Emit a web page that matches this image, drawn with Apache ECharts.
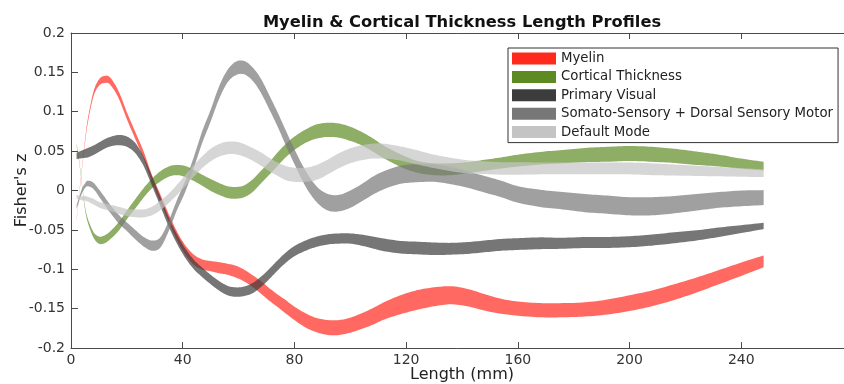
<!DOCTYPE html>
<html>
<head>
<meta charset="utf-8">
<script src="https://cdn.jsdelivr.net/npm/echarts@6/dist/echarts.min.js"></script>
<style>
    html, body { margin: 0; padding: 0; background: #fff; }
    #chart { width: 844px; height: 384px; }
</style>
</head>
<body>
<div id="chart"></div>
<script>
// fibre length (mm) sample points, shared by every profile
const lengthMm = [2, 3, 4, 5, 6, 8, 10, 12, 14, 17,
    20, 23, 26, 29, 32, 35, 38, 41, 44, 47,
    50, 53, 56, 59, 62, 65, 68, 71, 74, 77,
    80, 84, 88, 92, 96, 100, 104, 108, 112, 118,
    124, 130, 136, 142, 148, 154, 160, 168, 176, 184,
    192, 200, 208, 216, 224, 232, 240, 248];

// band centre and thickness (Fisher's z)
const myelinMid = [-0.037, -0.002, 0.030, 0.062, 0.088, 0.122, 0.137, 0.141, 0.139, 0.122,
    0.095, 0.070, 0.045, 0.015, -0.010, -0.035, -0.058, -0.076, -0.088, -0.094,
    -0.096, -0.098, -0.100, -0.103, -0.108, -0.115, -0.123, -0.132, -0.140, -0.148,
    -0.156, -0.165, -0.171, -0.174, -0.174, -0.171, -0.166, -0.160, -0.153, -0.145,
    -0.139, -0.135, -0.133, -0.136, -0.142, -0.147, -0.150, -0.152, -0.152, -0.151,
    -0.148, -0.143, -0.137, -0.129, -0.120, -0.110, -0.100, -0.090];
const myelinWidth = [0.002, 0.002, 0.003, 0.004, 0.005, 0.006, 0.008, 0.009, 0.009, 0.009,
    0.009, 0.009, 0.009, 0.009, 0.010, 0.010, 0.011, 0.012, 0.013, 0.013,
    0.013, 0.014, 0.014, 0.015, 0.015, 0.015, 0.016, 0.016, 0.016, 0.017,
    0.017, 0.018, 0.018, 0.019, 0.019, 0.019, 0.020, 0.021, 0.022, 0.024,
    0.025, 0.024, 0.023, 0.022, 0.021, 0.019, 0.018, 0.018, 0.018, 0.018,
    0.019, 0.020, 0.020, 0.020, 0.019, 0.018, 0.017, 0.015];

const thicknessMid = [0.058, 0.035, 0.005, -0.022, -0.038, -0.056, -0.063, -0.062, -0.057, -0.046,
    -0.031, -0.017, -0.003, 0.009, 0.018, 0.024, 0.026, 0.024, 0.019, 0.013,
    0.007, 0.002, -0.002, -0.003, -0.001, 0.006, 0.017, 0.028, 0.040, 0.051,
    0.060, 0.069, 0.075, 0.077, 0.076, 0.072, 0.066, 0.058, 0.049, 0.038,
    0.030, 0.027, 0.027, 0.029, 0.032, 0.035, 0.038, 0.041, 0.043, 0.045,
    0.046, 0.047, 0.046, 0.044, 0.041, 0.038, 0.034, 0.031];
const thicknessWidth = [0.003, 0.003, 0.003, 0.004, 0.005, 0.007, 0.009, 0.010, 0.010, 0.011,
    0.011, 0.012, 0.012, 0.012, 0.013, 0.013, 0.013, 0.014, 0.014, 0.014,
    0.015, 0.015, 0.015, 0.015, 0.015, 0.016, 0.016, 0.016, 0.017, 0.017,
    0.017, 0.017, 0.018, 0.018, 0.018, 0.018, 0.017, 0.017, 0.016, 0.016,
    0.015, 0.015, 0.015, 0.014, 0.014, 0.014, 0.015, 0.016, 0.017, 0.018,
    0.019, 0.019, 0.019, 0.018, 0.017, 0.015, 0.013, 0.011];

const visualMid = [0.044, 0.045, 0.046, 0.047, 0.048, 0.051, 0.055, 0.059, 0.062, 0.064,
    0.062, 0.054, 0.037, 0.012, -0.014, -0.040, -0.062, -0.080, -0.094, -0.104,
    -0.113, -0.121, -0.127, -0.129, -0.128, -0.124, -0.116, -0.106, -0.095, -0.085,
    -0.077, -0.070, -0.065, -0.062, -0.061, -0.061, -0.063, -0.066, -0.069, -0.072,
    -0.073, -0.074, -0.074, -0.073, -0.071, -0.069, -0.068, -0.067, -0.067, -0.066,
    -0.066, -0.065, -0.063, -0.060, -0.057, -0.053, -0.049, -0.045];
const visualWidth = [0.008, 0.009, 0.010, 0.011, 0.012, 0.012, 0.012, 0.012, 0.012, 0.013,
    0.013, 0.013, 0.012, 0.012, 0.012, 0.012, 0.012, 0.012, 0.012, 0.012,
    0.012, 0.012, 0.012, 0.012, 0.012, 0.013, 0.013, 0.013, 0.013, 0.013,
    0.013, 0.013, 0.013, 0.013, 0.013, 0.013, 0.014, 0.015, 0.016, 0.016,
    0.016, 0.016, 0.015, 0.015, 0.015, 0.015, 0.015, 0.015, 0.014, 0.014,
    0.014, 0.014, 0.014, 0.014, 0.013, 0.012, 0.010, 0.008];

const somatoMid = [-0.021, -0.010, 0.000, 0.006, 0.009, 0.006, -0.003, -0.013, -0.023, -0.036,
    -0.046, -0.056, -0.065, -0.070, -0.066, -0.045, -0.018, 0.006, 0.036, 0.068,
    0.095, 0.124, 0.145, 0.155, 0.156, 0.148, 0.133, 0.112, 0.090, 0.066,
    0.043, 0.015, -0.005, -0.015, -0.016, -0.011, -0.003, 0.006, 0.013, 0.020,
    0.022, 0.022, 0.019, 0.014, 0.008, 0.002, -0.005, -0.010, -0.013, -0.016,
    -0.018, -0.020, -0.020, -0.018, -0.015, -0.012, -0.010, -0.009];
const somatoWidth = [0.005, 0.005, 0.006, 0.006, 0.007, 0.008, 0.009, 0.010, 0.010, 0.011,
    0.011, 0.012, 0.012, 0.013, 0.013, 0.013, 0.013, 0.014, 0.014, 0.015,
    0.015, 0.016, 0.016, 0.017, 0.017, 0.017, 0.018, 0.018, 0.018, 0.019,
    0.019, 0.020, 0.020, 0.021, 0.021, 0.022, 0.022, 0.023, 0.023, 0.023,
    0.023, 0.022, 0.022, 0.021, 0.021, 0.021, 0.021, 0.022, 0.022, 0.023,
    0.023, 0.023, 0.023, 0.022, 0.021, 0.020, 0.020, 0.019];

const defaultMid = [-0.008, -0.009, -0.010, -0.010, -0.011, -0.014, -0.018, -0.020, -0.022, -0.025,
    -0.028, -0.029, -0.029, -0.026, -0.019, -0.010, 0.001, 0.013, 0.025, 0.036,
    0.045, 0.051, 0.054, 0.054, 0.051, 0.046, 0.040, 0.033, 0.027, 0.022,
    0.020, 0.020, 0.023, 0.030, 0.038, 0.044, 0.048, 0.050, 0.050, 0.047,
    0.042, 0.037, 0.033, 0.030, 0.029, 0.028, 0.028, 0.028, 0.028, 0.028,
    0.028, 0.028, 0.027, 0.026, 0.025, 0.024, 0.023, 0.022];
const defaultWidth = [0.005, 0.005, 0.005, 0.006, 0.006, 0.007, 0.007, 0.008, 0.008, 0.009,
    0.009, 0.010, 0.010, 0.011, 0.012, 0.012, 0.013, 0.014, 0.015, 0.015,
    0.016, 0.016, 0.016, 0.016, 0.016, 0.016, 0.017, 0.017, 0.017, 0.018,
    0.018, 0.018, 0.019, 0.019, 0.019, 0.019, 0.019, 0.019, 0.019, 0.018,
    0.018, 0.017, 0.017, 0.017, 0.016, 0.016, 0.016, 0.015, 0.015, 0.015,
    0.015, 0.015, 0.015, 0.014, 0.013, 0.012, 0.011, 0.010];

const profileNames = ['Myelin', 'Cortical Thickness', 'Primary Visual',
    'Somato-Sensory + Dorsal Sensory Motor', 'Default Mode'];
const profileColors = ['#ff2a1e', '#5e8a24', '#3c3c3c', '#777777', '#c4c4c4'];
const mids = [myelinMid, thicknessMid, visualMid, somatoMid, defaultMid];
const widths = [myelinWidth, thicknessWidth, visualWidth, somatoWidth, defaultWidth];

const FONT = 'DejaVu Sans';
const AXIS_COLOR = '#4a4a4a';
const BAND_ALPHA = 0.7;

function fade(hex, a) {
    const n = parseInt(hex.slice(1), 16);
    return 'rgba(' + (n >> 16 & 255) + ',' + (n >> 8 & 255) + ',' + (n & 255) + ',' + a + ')';
}

// catmull-rom through pixel points so the band edges come out smooth
function spline(pts, steps) {
    const out = [];
    const n = pts.length;
    for (let i = 0; i < n - 1; i++) {
        const p0 = pts[Math.max(i - 1, 0)];
        const p1 = pts[i];
        const p2 = pts[i + 1];
        const p3 = pts[Math.min(i + 2, n - 1)];
        for (let s = 0; s < steps; s++) {
            const t = s / steps, t2 = t * t, t3 = t2 * t;
            out.push([0, 1].map(d => 0.5 * (2 * p1[d] + (p2[d] - p0[d]) * t
                + (2 * p0[d] - 5 * p1[d] + 4 * p2[d] - p3[d]) * t2
                + (3 * p1[d] - p0[d] - 3 * p2[d] + p3[d]) * t3)));
        }
    }
    out.push(pts[n - 1]);
    return out;
}

// whole band drawn once, as one closed shape: upper edge out, lower edge back
function renderBand(fill) {
    return function (params, api) {
        if (params.dataIndexInside !== 0) {
            return null;
        }
        const n = params.dataInsideLength;
        const upper = [];
        const lower = [];
        for (let k = 0; k < n; k++) {
            const x = api.value(0, k);
            lower.push(api.coord([x, api.value(1, k)]));
            upper.push(api.coord([x, api.value(2, k)]));
        }
        const outline = spline(upper, 8).concat(spline(lower, 8).reverse());
        return {
            type: 'polygon',
            shape: {points: outline},
            style: {fill: fill, stroke: null}
        };
    };
}

const series = profileNames.map((name, i) => ({
    name: name,
    type: 'custom',
    renderItem: renderBand(fade(profileColors[i], BAND_ALPHA)),
    itemStyle: {color: profileColors[i]},
    encode: {x: 0, y: [1, 2]},
    data: lengthMm.map((x, k) => [x, mids[i][k] - widths[i][k] / 2, mids[i][k] + widths[i][k] / 2]),
    silent: true,
    z: 2 + i
}));

const xAxisBase = {
    type: 'value',
    min: 0,
    max: 280,
    interval: 40,
    axisLine: {show: true, onZero: false, lineStyle: {color: AXIS_COLOR, width: 1}},
    axisTick: {show: true, inside: true, length: 6, lineStyle: {color: AXIS_COLOR}},
    splitLine: {show: false}
};

const option = {
    animation: false,
    backgroundColor: '#fff',
    title: {
        text: 'Myelin & Cortical Thickness Length Profiles',
        left: 457,
        top: 10,
        textAlign: 'center',
        textStyle: {fontFamily: FONT, fontSize: 16.3, fontWeight: 'bold', color: '#111'}
    },
    legend: {
        orient: 'vertical',
        left: 508,
        top: 48,
        padding: [4, 5, 4, 4],
        itemWidth: 44,
        itemHeight: 12,
        itemGap: 5.4,
        borderColor: '#333',
        borderWidth: 1,
        borderRadius: 0,
        backgroundColor: '#fff',
        selectedMode: false,
        textStyle: {fontFamily: FONT, fontSize: 13.3, color: '#222', lineHeight: 12},
        data: profileNames.map((n, i) => ({
            name: n,
            icon: 'rect',
            itemStyle: {color: profileColors[i], opacity: 1}
        }))
    },
    grid: {left: 71, right: -9, top: 33, bottom: 36, containLabel: false, outerBoundsMode: 'none'},
    xAxis: [
        Object.assign({}, xAxisBase, {
            position: 'bottom',
            axisLabel: {fontFamily: FONT, fontSize: 14, color: '#333', margin: 5, showMaxLabel: false},
            name: 'Length (mm)',
            nameLocation: 'middle',
            nameGap: 19,
            nameMoveOverlap: false,
            nameTextStyle: {fontFamily: FONT, fontSize: 16, color: '#222'}
        }),
        Object.assign({}, xAxisBase, {
            position: 'top',
            axisLabel: {show: false}
        })
    ],
    yAxis: {
        type: 'value',
        min: -0.2,
        max: 0.2,
        interval: 0.05,
        axisLine: {show: true, onZero: false, lineStyle: {color: AXIS_COLOR, width: 1}},
        axisTick: {show: true, inside: true, length: 7, lineStyle: {color: AXIS_COLOR}},
        axisLabel: {fontFamily: FONT, fontSize: 14, color: '#333', margin: 6},
        splitLine: {show: false},
        name: "Fisher's z",
        nameLocation: 'middle',
        nameGap: 41,
        nameRotate: 90,
        nameMoveOverlap: false,
        nameTextStyle: {fontFamily: FONT, fontSize: 16, color: '#222'}
    },
    series: series
};

const chart = echarts.init(document.getElementById('chart'), null, {renderer: 'canvas'});
chart.setOption(option);
</script>
</body>
</html>
